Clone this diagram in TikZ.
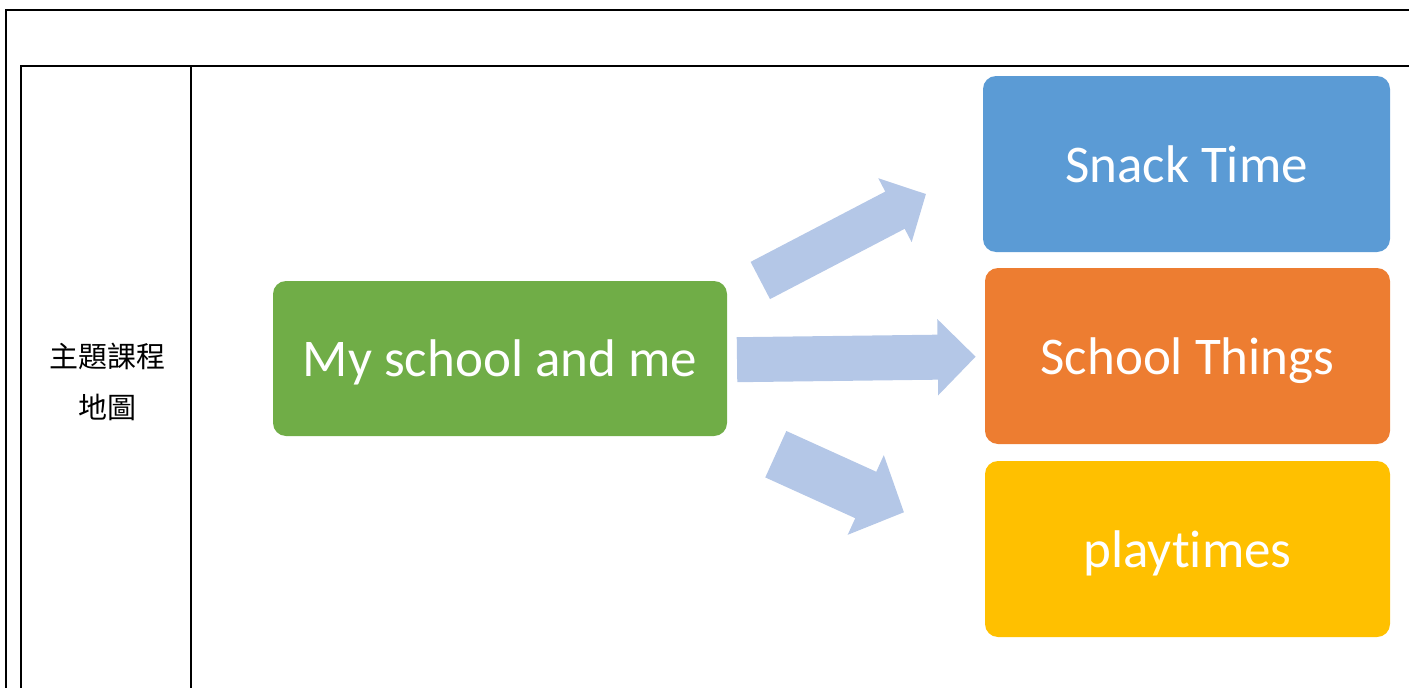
\documentclass[tikz,border=0pt]{standalone}
\usepackage{fontspec}
\setmainfont[Ligatures=NoCommon]{Carlito}
\newfontfamily\cjk{Noto Sans CJK TC}
\usepackage{xcolor}
\usetikzlibrary{arrows.meta,positioning,calc}

\definecolor{topicgreen}{HTML}{70AD47}
\definecolor{snackblue}{HTML}{5B9BD5}
\definecolor{thingsorange}{HTML}{ED7D31}
\definecolor{playyellow}{HTML}{FFC000}
\definecolor{arrowblue}{HTML}{B4C7E7}

\begin{document}
\begin{tikzpicture}[x=1pt,y=-1pt]

    % Styles
    \tikzset{
        topic/.style={rounded corners=13pt, inner sep=0pt, text=white,
            text height=40pt, text depth=4pt,
            font=\fontsize{53}{60}\selectfont},
        bigarrow/.style args={#1/#2/#3}{draw=arrowblue, line width=#1pt,
            -{Triangle[width=#2pt,length=#3pt]}},
        rule/.style={line width=2pt}
    }

    \useasboundingbox (0,0) rectangle (1409,688);

    % Table frame
    \draw[rule] (1409,10) -- (6,10) -- (6,688);
    \draw[rule] (1409,66) -- (21,66) -- (21,688);
    \draw[rule] (191,66) -- (191,688);

    % Left cell label
    \node[align=center, font=\cjk\fontsize{29}{51}\selectfont] (label) at (107,382) {主題課程\\地圖};

    % Boxes
    \node[topic, fill=topicgreen, minimum width=454pt, minimum height=155pt] (school) at (500,358.5) {My school and me};
    \node[topic, fill=snackblue, minimum width=407pt, minimum height=176pt] (snack) at (1186.5,164) {Snack Time};
    \node[topic, fill=thingsorange, minimum width=405pt, minimum height=176pt] (things) at (1187.5,356) {School Things};
    \node[topic, fill=playyellow, minimum width=405pt, minimum height=176pt] (play) at (1187.5,549) {playtimes};

    % Arrow ends
    \coordinate (up-tail) at (760.3,280.5);
    \coordinate (up-tip) at (926,194);
    \coordinate (mid-tail) at (737,359.7);
    \coordinate (mid-tip) at (975.7,356.7);
    \coordinate (down-tail) at (775.8,454.2);
    \coordinate (down-tip) at (904,512.3);

    % Arrows
    \draw[bigarrow=42/70/35] (up-tail) -- (up-tip);
    \draw[bigarrow=45/74/38] (mid-tail) -- (mid-tip);
    \draw[bigarrow=51/85/42] (down-tail) -- (down-tip);

\end{tikzpicture}
\end{document}
